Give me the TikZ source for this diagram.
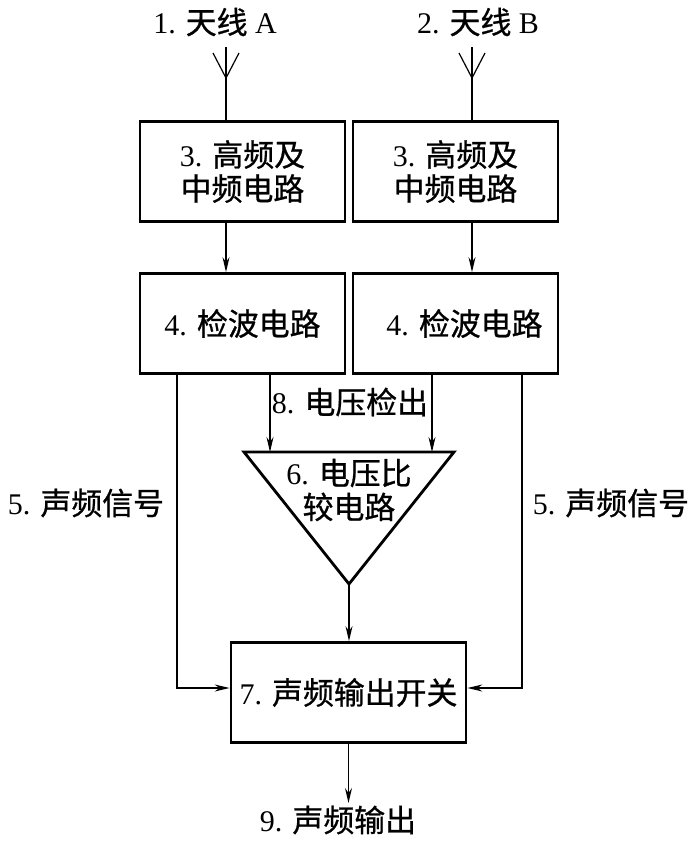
\documentclass[tikz,border=0pt]{standalone}
\usepackage{fontspec}
\setmainfont{Liberation Serif}
\newfontfamily\cjk[FakeBold=0.8,Scale=1.03]{Noto Sans CJK SC}
\usetikzlibrary{arrows.meta}
\newcommand\zh[1]{{\cjk #1}}
\begin{document}
\begin{tikzpicture}[x=1pt,y={(0pt,-1pt)},
  txt/.style={font=\fontsize{30}{34}\selectfont, inner sep=0pt, align=center},
  blk/.style={txt, draw, line width=2.8pt, minimum width=205pt, minimum height=100pt},
  thinline/.style={line width=1.2pt},
  arr/.style={thinline, -{Stealth[length=15pt,width=7pt,inset=5pt]}}]
\path[use as bounding box] (0,0) rectangle (700,844);

% labels
\node[txt] (l1) at (215,22) {1. \zh{天线} A};
\node[txt] (l2) at (478,22) {2. \zh{天线} B};

% boxes
\node[blk] (b3L) at (242.5,171.5) {3. \zh{高频及}\\\zh{中频电路}};
\node[blk] (b3R) at (455.5,171.5) {3. \zh{高频及}\\\zh{中频电路}};
\node[blk] (b4L) at (242.5,323.5) {4. \zh{检波电路}};
\node[blk] (b4R) at (455.5,323.5) {\hspace*{18pt}4. \zh{检波电路}};
\node[blk, minimum width=235pt] (b7) at (348.5,692.5) {7. \zh{声频输出开关}};

% antennas
\coordinate (antA) at (226,47);
\coordinate (antB) at (472,47);
\draw[thinline] (antA) -- (antA |- b3L.north);
\draw[thinline] (antB) -- (antB |- b3R.north);
\draw[thinline] (213,53) -- (226,78) -- (239,53);
\draw[thinline] (459,53) -- (472,78) -- (485,53);

% box3 -> box4
\draw[arr] (b3L.south -| antA) -- (b4L.north -| antA);
\draw[arr] (b3R.south -| antB) -- (b4R.north -| antB);

% triangle
\coordinate (tTL) at (244,452);
\coordinate (tTR) at (454,452);
\coordinate (tAp) at (349,584);
\draw[line width=2.8pt, line join=miter] (tTL) -- (tTR) -- (tAp) -- cycle;
\node[txt] (t6) at (349,490) {6. \zh{电压比}\\\zh{较电路}};

% voltage detect arrows
\coordinate (v8L) at (270,452);
\coordinate (v8R) at (432,452);
\draw[arr] (b4L.south -| v8L) -- (v8L);
\draw[arr] (b4R.south -| v8R) -- (v8R);
\node[txt] (l8) at (350,402) {8. \zh{电压检出}};

% audio signal lines
\coordinate (s5L) at (177,688);
\coordinate (s5R) at (522,688);
\draw[arr] (b4L.south -| s5L) -- (s5L) -- (b7.west |- s5L);
\draw[arr] (b4R.south -| s5R) -- (s5R) -- (b7.east |- s5R);
\node[txt] (l5L) at (86,503) {5. \zh{声频信号}};
\node[txt] (l5R) at (611,503) {5. \zh{声频信号}};

% comparator -> switch
\draw[arr] (tAp) -- (tAp |- b7.north);

% output
\node[txt] (l9) at (338,820) {9. \zh{声频输出}};
\draw[arr] (b7.south) -- (b7.south |- 0,803);
\end{tikzpicture}
\end{document}
